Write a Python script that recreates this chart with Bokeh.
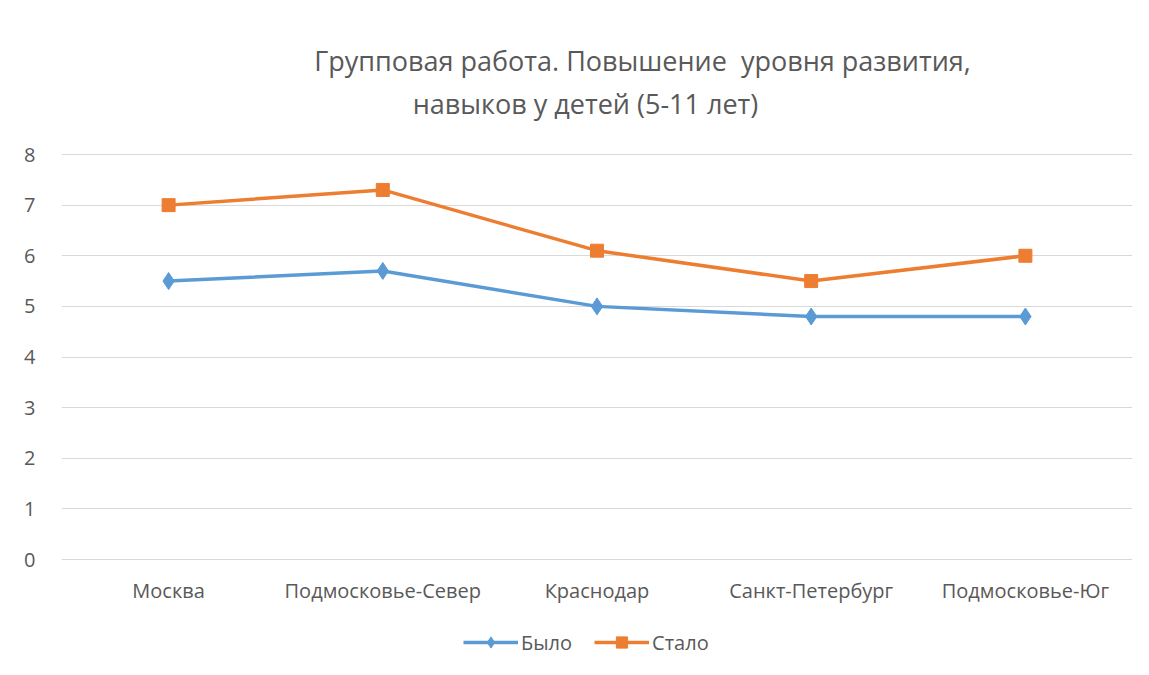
from bokeh.plotting import figure
from bokeh.models import Label, Legend, LegendItem, FixedTicker
from bokeh.embed import file_html
from bokeh.resources import INLINE

categories = ["Москва", "Подмосковье-Север", "Краснодар", "Санкт-Петербург", "Подмосковье-Юг"]
bylo = [5.5, 5.7, 5.0, 4.8, 4.8]
stalo = [7.0, 7.3, 6.1, 5.5, 6.0]
y_ticks = [0, 1, 2, 3, 4, 5, 6, 7, 8]
title_lines = ["Групповая работа. Повышение\u00a0 уровня развития,", "навыков у детей (5-11 лет)"]

FONT = "Open Sans"
GREY = "#595959"

W, H = 1141, 667
FL, FR = 61, 1132          # frame left/right in px
Y0_PX, Y8_PX = 559, 154    # pixel rows of value 0 and value 8
k = (Y0_PX - Y8_PX) / 8.0
y_start = -(H - Y0_PX) / k
y_end = y_start + H / k

p = figure(x_range=categories, y_range=(y_start, y_end), width=W, height=H,
           output_backend="svg", toolbar_location=None,
           min_border_left=FL, min_border_right=W - FR, min_border_top=0, min_border_bottom=0)
p.outline_line_color = None
p.background_fill_color = "white"
p.border_fill_color = "white"

p.xgrid.grid_line_color = None
p.ygrid.grid_line_color = "#D9D9D9"
p.ygrid.grid_line_width = 1
p.yaxis.ticker = FixedTicker(ticks=y_ticks)
p.xaxis.fixed_location = 0
for ax in (p.xaxis[0], p.yaxis[0]):
    ax.axis_line_color = None
    ax.major_tick_line_color = None
    ax.minor_tick_line_color = None
    ax.major_label_text_font = FONT
    ax.major_label_text_font_size = "20px"
    ax.major_label_text_color = GREY
p.xaxis.major_label_standoff = 11
p.yaxis.major_label_standoff = 20

BLUE = "#5B9BD5"
ORANGE = "#ED7D31"
l1 = p.line(categories, bylo, line_color=BLUE, line_width=3.5)
m1 = p.scatter(categories, bylo, marker="diamond", size=17, fill_color=BLUE, line_color=BLUE)
l2 = p.line(categories, stalo, line_color=ORANGE, line_width=3.5)
m2 = p.scatter(categories, stalo, marker="square", size=13, fill_color=ORANGE, line_color=ORANGE)

legend = Legend(items=[LegendItem(label="Было", renderers=[l1, m1]),
                       LegendItem(label="Стало", renderers=[l2, m2])],
                orientation="horizontal", location=(463 - FL, H - 656),
                label_text_font=FONT, label_text_font_size="20px", label_text_color=GREY,
                label_height=28, glyph_width=55, glyph_height=28, spacing=22, padding=0, margin=0,
                label_standoff=3, border_line_color=None, background_fill_alpha=0)
p.add_layout(legend, "center")

for txt, cx, cy in zip(title_lines, [642, 585], [60, 103]):
    p.add_layout(Label(x=cx - FL, y=H - cy, x_units="screen", y_units="screen",
                       text=txt, text_font=FONT, text_font_size="27px", text_color=GREY,
                       text_align="center", text_baseline="middle"))

open("out.html", "w").write(file_html(p, INLINE))
